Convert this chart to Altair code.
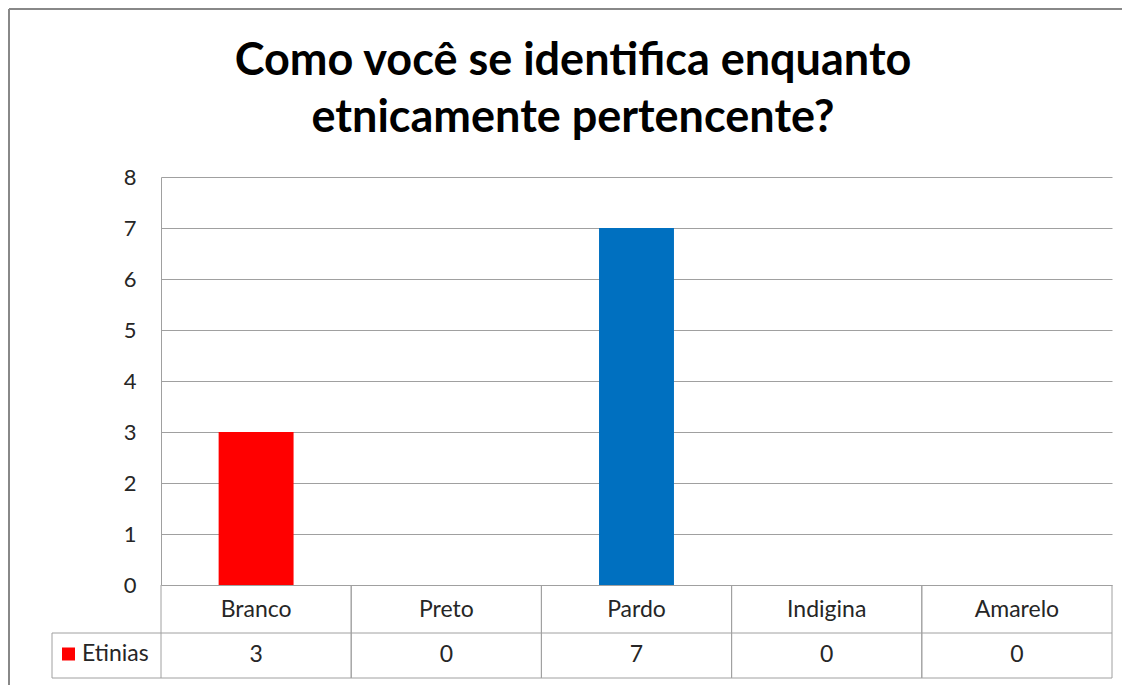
import altair as alt
import pandas as pd

categories = ["Branco", "Preto", "Pardo", "Indigina", "Amarelo"]
values = [3, 0, 7, 0, 0]
bar_colors = ["#FF0000", "#FF0000", "#0070C0", "#FF0000", "#FF0000"]
series_name = "Etinias"
title_lines = ["Como você se identifica enquanto", "etnicamente pertencente?"]
y_ticks = [0, 1, 2, 3, 4, 5, 6, 7, 8]

df = pd.DataFrame({"cat": categories, "val": values})

W, H = 951, 408
FONT = "Lato"
GRID = "#A0A0A0"
TXT = "#262626"
FS = 23

x_enc = alt.X("cat:N", sort=categories,
              scale=alt.Scale(paddingInner=0, paddingOuter=0), axis=None)

base = alt.Chart(df)

bars = base.mark_bar(width=alt.RelativeBandSize(0.394)).encode(
    x=x_enc,
    y=alt.Y("val:Q", scale=alt.Scale(domain=[0, 8], nice=False),
            axis=alt.Axis(values=y_ticks, title=None, grid=True, gridColor=GRID,
                          gridWidth=1, domainColor=GRID, domainWidth=1, ticks=False,
                          labelPadding=25, labelFont=FONT, labelFontSize=22,
                          labelColor=TXT)),
    color=alt.Color("cat:N", scale=alt.Scale(domain=categories, range=bar_colors),
                    legend=None),
)

cat_text = base.mark_text(font=FONT, fontSize=FS, color=TXT, baseline="alphabetic").encode(
    x=x_enc, y=alt.value(H + 32), text="cat:N")

val_text = base.mark_text(font=FONT, fontSize=FS, color=TXT, baseline="alphabetic").encode(
    x=x_enc, y=alt.value(H + 77), text="val:Q")

vlines0 = base.mark_rule(color=GRID, strokeWidth=1).encode(
    x=alt.X("cat:N", sort=categories, bandPosition=0,
            scale=alt.Scale(paddingInner=0, paddingOuter=0), axis=None),
    y=alt.value(H), y2=alt.value(H + 93))
vlines1 = base.mark_rule(color=GRID, strokeWidth=1).encode(
    x=alt.X("cat:N", sort=categories, bandPosition=1,
            scale=alt.Scale(paddingInner=0, paddingOuter=0), axis=None),
    y=alt.value(H), y2=alt.value(H + 93))

one = alt.Data(values=[{"s": series_name}])
hline_mid = alt.Chart(one).mark_rule(color=GRID, strokeWidth=1).encode(
    x=alt.value(-109), x2=alt.value(W), y=alt.value(H + 48))
hline_bot = alt.Chart(one).mark_rule(color=GRID, strokeWidth=1).encode(
    x=alt.value(-109), x2=alt.value(W), y=alt.value(H + 93))
vline_leg = alt.Chart(one).mark_rule(color=GRID, strokeWidth=1).encode(
    x=alt.value(-109), y=alt.value(H + 48), y2=alt.value(H + 93))

leg_sq = alt.Chart(one).mark_square(size=169, color="#FF0000", opacity=1).encode(
    x=alt.value(-92.5), y=alt.value(H + 69))
leg_txt = alt.Chart(one).mark_text(font=FONT, fontSize=FS, color=TXT, align="left",
                                   baseline="alphabetic").encode(
    x=alt.value(-79), y=alt.value(H + 76), text="s:N")

title_txt = alt.Chart(one).mark_text(font=FONT, fontSize=45, fontWeight="bold",
                                     color="#000000", lineHeight=57, align="center",
                                     baseline="alphabetic").encode(
    x=alt.value(412), y=alt.value(-102), text=alt.value(title_lines))

frame_top = alt.Chart(one).mark_rule(color="#888888", strokeWidth=2).encode(
    x=alt.value(-152), x2=alt.value(W + 200), y=alt.value(-168))
frame_left = alt.Chart(one).mark_rule(color="#888888", strokeWidth=2).encode(
    x=alt.value(-152), y=alt.value(-168), y2=alt.value(H + 200))

chart = alt.layer(
    frame_top, frame_left, bars, vlines0, vlines1, hline_mid, hline_bot, vline_leg,
    cat_text, val_text, leg_sq, leg_txt, title_txt
).properties(
    width=W, height=H,
    padding={"left": 153, "top": 169, "right": 10, "bottom": 100},
    autosize=alt.AutoSizeParams(type="none"),
).configure_view(stroke=None)

chart.save("out.html", embed_options={"renderer": "svg", "actions": False})
